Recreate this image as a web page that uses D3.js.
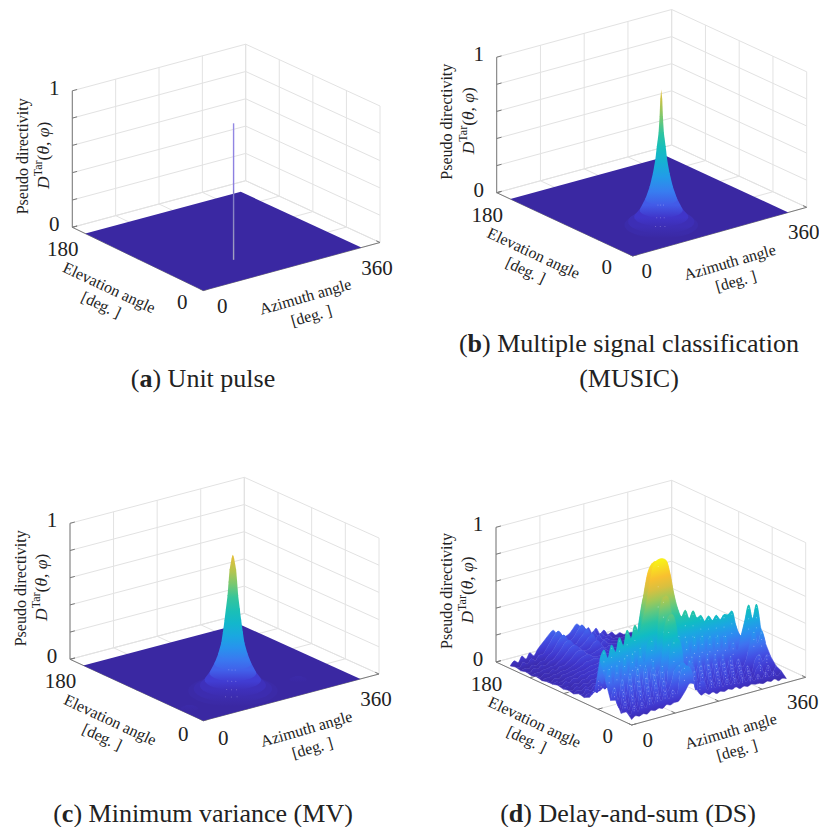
<!DOCTYPE html>
<html>
<head>
  <title>Pseudo directivity of four methods</title>
  <script src="https://cdn.jsdelivr.net/npm/d3@7"></script>
  <style>
    html, body { margin: 0; background: #fff; }
    svg { display: block; }
    text { font-family: "Liberation Serif", serif; fill: #222; }
  </style>
</head>
<body>
  <div id="chart"></div>
  <script>
    const width = 819, height = 827;

    const azimuthTicks = [0, 90, 180, 270, 360];
    const elevationTicks = [0, 45, 90, 135, 180];
    const heightTicks = [0, 0.2, 0.4, 0.6, 0.8, 1];
    const surfaceAzimuth = 322, surfaceElevation = 162;
    const peakAzimuth = 123, peakElevation = 41;

    // unit pulse
    const pulseHeight = [0, 1];

    // rotationally symmetric peaks: height against radius (azimuth degrees)
    const musicHeight = [0, 0.025, 0.06, 0.11, 0.19, 0.28, 0.38, 0.48, 0.58, 0.68, 0.8, 0.93, 1];
    const musicRadius = [60, 54, 44, 35, 26, 19, 13.7, 9.7, 7.2, 4.3, 2.7, 1.6, 0];
    const mvHeight = [0, 0.015, 0.04, 0.08, 0.13, 0.2, 0.27, 0.35, 0.43, 0.52, 0.6, 0.7, 0.8, 0.89, 0.97, 0.99, 1];
    const mvRadius = [73, 64, 54, 46, 38, 30, 24, 19, 16.3, 13.6, 11.4, 8.7, 7, 5.4, 2.2, 1.2, 0];
    const mvBumpAzimuth = [240, 17];
    const mvBumpElevation = [30, 30];
    const mvBumpHeight = [0, 0.012, 0.02];
    const mvBumpRadius = [14, 8, 0];
    const speckAngles = [220, 230, 240];

    // delay-and-sum surface, height in percent, row per elevation, column per azimuth
    const dsAzimuth = [0,8,16,24,32,40,48,56,64,72,80,88,96,104,112,120,128,136,144,152,160,168,176,184,192,200,208,216,224,232,240,248,256,264,272,280,288,296,304,312,320];
    const dsElevation = [0,7,14,21,28,35,42,49,56,63,70,77,84,91,98,105,112,119,126,133,140,147,154,161];
    const dsRow00 = [4,6,5,6,5,7,6,7,6,8, 7,8,8,11,15,19,18,12,8,9, 7,8,6,7,6,7,6,7,5,6, 5,6,5,5,4,5,4,5,3,4, 3];
    const dsRow01 = [8,5,11,6,12,7,14,8,15,9, 16,9,15,11,26,30,29,24,10,15, 15,8,14,8,13,7,12,7,11,6, 10,6,9,5,9,5,9,5,8,4, 7];
    const dsRow02 = [5,13,6,16,7,18,9,20,9,21, 10,21,12,18,28,30,30,26,14,22, 9,19,8,18,8,17,7,16,7,14, 6,13,6,11,5,11,13,6,11,5, 9];
    const dsRow03 = [13,6,18,8,21,9,23,11,24,12, 25,13,30,14,40,46,46,38,13,28, 23,11,22,10,21,9,20,9,19,8, 16,7,14,7,12,6,15,18,12,16, 14];
    const dsRow04 = [11,20,10,25,12,28,14,30,15,31, 17,33,20,30,56,62,62,52,26,22, 15,28,14,27,14,27,13,25,12,23, 11,20,10,16,9,14,26,34,24,32, 22];
    const dsRow05 = [24,33,20,34,22,38,25,40,27,43, 30,44,46,36,66,74,74,62,36,44, 30,38,27,40,27,39,26,37,25,36, 24,34,22,27,20,29,40,51,40,50, 33];
    const dsRow06 = [38,44,37,46,40,50,43,54,47,56, 50,60,72,88,98,100,100,98,88,72, 60,53,57,50,55,49,50,45,48,44, 47,43,46,45,47,36,28,25,27,26, 20];
    const dsRow07 = [12,20,16,24,18,28,22,30,26,32, 30,38,60,80,92,96,96,90,78,62, 42,38,36,36,34,34,32,32,30,30, 28,28,26,24,22,20,18,18,16,14, 12];
    const dsRow08 = [6,10,8,12,9,12,10,14,12,15, 14,18,36,56,70,75,73,62,44,28, 20,18,18,16,16,15,15,14,14,13, 13,12,12,11,11,10,10,9,9,8, 8];
    const dsRow09 = [4,6,5,7,6,8,7,9,8,10, 10,12,18,28,40,44,42,32,20,12, 8,8,7,7,6,6,6,6,5,5, 5,5,4,4,4,4,3,3,3,3, 3];
    const dsRow10 = [5,4,7,5,8,6,8,7,9,8, 10,12,15,22,28,30,28,22,14,9, 7,7,6,6,5,5,5,5,4,4, 4,4,3,3,3,3,3,3,2,2, 2];
    const dsRow11 = [3,5,4,6,5,7,6,8,7,9, 9,11,13,17,21,22,20,16,10,7, 6,6,5,5,5,5,4,4,4,4, 3,3,3,3,2,2,2,2,2,2, 2];
    const dsRow12 = [4,3,5,4,6,5,7,7,9,8, 9,10,12,14,16,16,14,11,8,6, 5,5,5,4,4,4,4,3,3,3, 3,3,2,2,2,2,2,2,2,2, 2];
    const dsRow13 = [3,4,3,5,4,6,6,8,8,9, 9,10,10,12,13,13,11,9,7,5, 5,4,4,4,4,3,3,3,3,3, 2,2,2,2,2,2,2,2,2,2, 2];
    const dsRow14 = [4,3,5,4,6,5,7,7,8,8, 9,9,10,10,11,11,9,8,6,5, 4,4,4,4,3,3,3,3,3,2, 2,2,2,2,2,2,2,2,2,2, 2];
    const dsRow15 = [3,4,3,4,5,5,6,7,7,8, 9,9,10,10,10,9,8,7,6,5, 4,4,4,3,3,3,3,3,2,2, 2,2,2,2,2,2,1,1,1,1, 1];
    const dsRow16 = [3,2,4,3,5,5,6,6,7,8, 10,10,11,10,9,8,8,7,6,5, 5,4,4,3,3,3,3,2,2,2, 2,2,2,2,1,1,1,1,1,1, 1];
    const dsRow17 = [2,3,3,4,4,5,5,6,7,9, 11,12,12,10,9,9,9,9,7,6, 6,5,4,4,3,3,3,2,2,2, 2,2,2,1,1,1,1,1,1,1, 1];
    const dsRow18 = [3,2,4,3,5,4,6,6,8,10, 13,14,13,10,9,10,11,12,9,7, 7,6,5,4,4,3,3,2,2,2, 2,2,2,1,1,1,1,1,1,1, 1];
    const dsRow19 = [2,3,3,4,4,5,5,7,9,12, 15,16,14,11,10,11,14,15,11,8, 9,7,6,5,4,4,3,3,2,2, 2,2,1,1,1,1,1,1,1,1, 1];
    const dsRow20 = [3,2,4,3,5,4,6,7,10,13, 17,18,15,11,11,13,16,18,13,9, 11,8,7,6,5,4,4,3,3,2, 2,2,1,1,1,1,1,1,1,1, 1];
    const dsRow21 = [2,3,2,4,3,5,5,8,10,14, 18,20,16,12,11,14,17,20,15,10, 13,9,9,7,6,5,4,4,3,3, 2,2,2,1,1,1,1,1,1,1, 1];
    const dsRow22 = [3,2,5,3,6,4,7,7,11,15, 19,21,17,13,12,14,18,21,17,11, 14,10,11,8,8,5,5,4,4,3, 3,2,2,2,1,1,1,1,1,1, 1];
    const dsRow23 = [2,5,3,7,4,8,5,9,12,15, 18,20,16,13,13,14,17,20,17,11, 15,10,13,8,10,6,7,4,5,3, 3,3,2,2,2,1,1,1,1,1, 1];
    const dsRows = [dsRow00,dsRow01,dsRow02,dsRow03,dsRow04,dsRow05,dsRow06,dsRow07,dsRow08,dsRow09,dsRow10,dsRow11,dsRow12,dsRow13,dsRow14,dsRow15,dsRow16,dsRow17,dsRow18,dsRow19,dsRow20,dsRow21,dsRow22,dsRow23];

    const colorStops = [0, 0.08, 0.16, 0.24, 0.32, 0.4, 0.48, 0.56, 0.64, 0.72, 0.8, 0.88, 1];
    const colorValues = ["#3a28a2","#4036cc","#4350e4","#3f72f0","#2a8ff0","#1aa8e0","#10bcc4","#28c4a4","#60c880","#a0c858","#d8c040","#f8c030","#f8f018"];
    const parula = d3.scaleLinear().domain(colorStops).range(colorValues);
    // the narrow peaks sit lower on the colour map than the delay-and-sum surface
    const peakTone = d3.scaleLinear().domain([0, 0.1, 0.2, 0.4, 0.55, 0.7, 0.85, 1]).range([0, 0.06, 0.2, 0.38, 0.48, 0.58, 0.72, 0.83]);

    // screen corners of each box: front, right, left, back, and pixel height of z = 1
    const panels = [
      { id: "a", front: [203.3, 290.5], right: [380, 242.5], left: [72.3, 227.3], back: [245.7, 180.7], tall: 136.5, shift: [0, 0] },
      { id: "b", front: [632.7, 256], right: [806.7, 207.3], left: [496.7, 192.7], back: [671.7, 145], tall: 135.5, shift: [-5, 0] },
      { id: "c", front: [203.3, 720.7], right: [379, 674], left: [70, 659.3], back: [244.3, 613.3], tall: 136, shift: [1, 2] },
      { id: "d", front: [631.7, 725], right: [805.7, 677.3], left: [496, 662], back: [671.7, 615], tall: 134.7, shift: [-3, 0] }
    ];

    const svg = d3.select("#chart").append("svg")
      .attr("width", width)
      .attr("height", height);
    const defs = svg.append("defs");

    const azimuthScale = d3.scaleLinear().domain([0, 360]).range([0, 1]);
    const elevationScale = d3.scaleLinear().domain([0, 180]).range([0, 1]);

    function makeProject(p) {
      const zScale = d3.scaleLinear().domain([0, 1]).range([0, p.tall]);
      const corner = (u, v, k) =>
        p.front[k] + u * (p.right[k] - p.front[k]) + v * (p.left[k] - p.front[k])
        + u * v * (p.back[k] - p.right[k] - p.left[k] + p.front[k]);
      return (az, el, z) => {
        const u = azimuthScale(az), v = elevationScale(el);
        return [corner(u, v, 0), corner(u, v, 1) - zScale(z)];
      };
    }

    function drawBox(g, project) {
      const line = d3.line();
      const grid = g.append("g").attr("fill", "none").attr("stroke", "#e2e2e2").attr("stroke-width", 1);
      heightTicks.forEach(z => {
        grid.append("path").attr("d", line([project(0, 180, z), project(360, 180, z), project(360, 0, z)]));
      });
      azimuthTicks.forEach(a => {
        grid.append("path").attr("d", line([project(a, 0, 0), project(a, 180, 0), project(a, 180, 1)]));
      });
      elevationTicks.forEach(e => {
        grid.append("path").attr("d", line([project(0, e, 0), project(360, e, 0), project(360, e, 1)]));
      });
    }

    function drawAxes(g, project) {
      const line = d3.line();
      const axes = g.append("g").attr("fill", "none").attr("stroke", "#7a7a7a").attr("stroke-width", 1);
      axes.append("path").attr("d", line([project(0, 180, 1), project(0, 180, 0), project(0, 0, 0), project(360, 0, 0)]));
      heightTicks.forEach(z => {
        axes.append("path").attr("d", line([project(0, 180, z), project(10, 180, z)]));
      });
      elevationTicks.forEach(e => {
        axes.append("path").attr("d", line([project(0, e, 0), project(10, e, 0)]));
      });
      azimuthTicks.forEach(a => {
        axes.append("path").attr("d", line([project(a, 0, 0), project(a, 5, 0)]));
      });
    }

    function drawFloor(g, project, color) {
      const corners = [
        project(0, 0, 0), project(surfaceAzimuth, 0, 0),
        project(surfaceAzimuth, surfaceElevation, 0), project(0, surfaceElevation, 0)
      ];
      g.append("path").attr("d", d3.line()(corners) + "Z").attr("fill", color);
    }

    // peak as a stack of rings, outermost first, each joined to the next by its hull
    function drawPeak(g, project, panelId, az0, el0, heights, radii, colorOf) {
      const angles = d3.range(0, 360, 10).map(d => d * Math.PI / 180);
      const onRing = (i, a) => project(
        az0 + radii[i] * Math.cos(a), el0 + radii[i] / 2 * Math.sin(a), heights[i]);
      const ring = i => angles.map(a => onRing(i, a));
      heights.slice(0, -1).forEach((z, i) => {
        const low = ring(i), high = ring(i + 1);
        const id = `peak-${panelId}-${az0}-${i}`;
        defs.append("linearGradient").attr("id", id)
          .attr("gradientUnits", "userSpaceOnUse")
          .attr("x1", 0).attr("x2", 0)
          .attr("y1", d3.max(low, d => d[1])).attr("y2", d3.max(high, d => d[1]))
          .selectAll("stop").data([0, 1]).join("stop")
          .attr("offset", d => d)
          .attr("stop-color", d => colorOf(d ? heights[i + 1] : z));
        const hull = d3.polygonHull(low.concat(high));
        g.append("path")
          .attr("d", d3.line()(hull) + "Z")
          .attr("fill", `url(#${id})`);
      });
      // pale specks low on the front face
      if (radii.length > 5) {
        const specks = [];
        heights.forEach((z, i) => {
          if (z > 0.03 && z <= 0.25) speckAngles.forEach(d => specks.push(onRing(i, d * Math.PI / 180)));
        });
        g.selectAll(null).data(specks).join("circle")
          .attr("cx", d => d[0]).attr("cy", d => d[1])
          .attr("r", 0.5)
          .attr("fill", "#fff")
          .attr("fill-opacity", 0.35);
      }
    }

    // surface as strips between neighbouring elevation rows, back row first
    function drawSurface(g, project, panelId, colorOf) {
      const curve = d3.line().curve(d3.curveCatmullRom.alpha(0.5));
      const rowPoints = i => dsRows[i].map((h, c) => project(dsAzimuth[c], dsElevation[i], h / 100));
      const tall = project(0, 0, 0)[1] - project(0, 0, 1)[1];
      const a = project(0, 0, 0), b = project(360, 0, 0);
      const len = Math.hypot(b[0] - a[0], b[1] - a[1]);
      const nx = (b[1] - a[1]) / len, ny = -(b[0] - a[0]) / len;
      const along = -tall * ny;
      for (let i = dsRows.length - 1; i >= 1; i--) {
        const back = rowPoints(i), frontRow = rowPoints(i - 1).reverse();
        const base = project(0, dsElevation[i - 1] + 3.5, 0);
        const id = `strip-${panelId}-${i}`;
        defs.append("linearGradient").attr("id", id)
          .attr("gradientUnits", "userSpaceOnUse")
          .attr("x1", base[0]).attr("y1", base[1])
          .attr("x2", base[0] + nx * along).attr("y2", base[1] + ny * along)
          .selectAll("stop").data(d3.range(0, 1.001, 0.04)).join("stop")
          .attr("offset", d => d)
          .attr("stop-color", d => colorOf(d));
        g.append("path")
          .attr("d", curve(back) + "L" + curve(frontRow).slice(1) + "Z")
          .attr("fill", `url(#${id})`)
          .attr("stroke", `url(#${id})`)
          .attr("stroke-width", 0.5);

        // pale specks on the crests of the front rows, as the mesh shows them
        if (i <= 8) {
          const specks = [];
          dsRows[i].forEach((h, c) => {
            const row = dsRows[i];
            if (c > 0 && c < row.length - 1 && h > row[c - 1] && h >= row[c + 1]) {
              [0.95, 0.8, 0.65].forEach(f => specks.push(project(dsAzimuth[c], dsElevation[i], h / 100 * f)));
            }
          });
          g.selectAll(null).data(specks).join("circle")
            .attr("cx", d => d[0]).attr("cy", d => d[1])
            .attr("r", 0.55)
            .attr("fill", "#fff")
            .attr("fill-opacity", 0.4);
        }
      }
    }

    function drawPulse(g, project) {
      const pts = pulseHeight.map(z => project(peakAzimuth, peakElevation, z));
      defs.append("linearGradient").attr("id", "pulse")
        .attr("gradientUnits", "userSpaceOnUse")
        .attr("x1", 0).attr("x2", 0)
        .attr("y1", pts[0][1]).attr("y2", pts[1][1])
        .selectAll("stop").data([[0, "#a3a3bf"], [0.25, "#8f8cc0"], [0.5, "#7f78c8"], [0.52, "#8a7de0"], [1, "#9489e4"]]).join("stop")
        .attr("offset", d => d[0])
        .attr("stop-color", d => d[1]);
      g.append("path")
        .attr("d", d3.line()(pts))
        .attr("fill", "none")
        .attr("stroke", "url(#pulse)")
        .attr("stroke-width", 1.4);
    }

    function addLabel(g, x, y, rotate, size, str) {
      return g.append("text")
        .attr("transform", `translate(${x},${y}) rotate(${rotate})`)
        .attr("text-anchor", "middle")
        .attr("dominant-baseline", "central")
        .attr("font-size", size)
        .text(str);
    }

    function drawLabels(g, p) {
      const fx = p.front[0] + p.shift[0], fy = p.front[1] + p.shift[1];
      const lx = p.left[0], ly = p.left[1];
      addLabel(g, lx - 18, ly - p.tall - 3, 0, 21, "1");
      addLabel(g, lx - 18, ly - 3, 0, 21, "0");
      addLabel(g, lx - 9.5, ly + 22, 0, 21, "180");
      addLabel(g, fx - 21, fy + 11, 0, 21, "0");
      addLabel(g, fx + 19, fy + 15, 0, 21, "0");
      addLabel(g, p.right[0] - 3, p.right[1] + 25, 0, 21, "360");
      addLabel(g, lx - 50, ly - 71, -90, 16, "Pseudo directivity");
      const math = addLabel(g, lx - 29, ly - 72, -90, 17.5, null);
      math.append("tspan").attr("font-style", "italic").text("D");
      math.append("tspan").attr("font-size", 12).attr("dy", -5).text("Tar");
      math.append("tspan").attr("dy", 5).text("(");
      math.append("tspan").attr("font-style", "italic").text("θ, φ");
      math.append("tspan").text(")");
      addLabel(g, fx - 94, fy - 3, 25, 16, "Elevation angle");
      addLabel(g, fx - 102, fy + 14, 25, 16, "[deg. ]");
      addLabel(g, fx + 102, fy + 6, -16, 16, "Azimuth angle");
      addLabel(g, fx + 108, fy + 25, -16, 16, "[deg. ]");
    }

    function addCaption(x, y, letter, rest) {
      const t = svg.append("text")
        .attr("x", x).attr("y", y)
        .attr("text-anchor", "middle")
        .attr("dominant-baseline", "central")
        .attr("font-size", 26);
      if (letter) {
        t.append("tspan").text("(");
        t.append("tspan").attr("font-weight", "bold").text(letter);
        t.append("tspan").text(") " + rest);
      } else {
        t.text(rest);
      }
    }

    panels.forEach(p => {
      const g = svg.append("g");
      const project = makeProject(p);
      const colorOf = p.id === "d" ? z => parula(z) : z => parula(peakTone(z));
      drawBox(g, project);
      drawAxes(g, project);
      drawLabels(g, p);
      if (p.id === "d") {
        drawSurface(g, project, p.id, colorOf);
      } else {
        drawFloor(g, project, colorOf(0));
      }
      if (p.id === "a") drawPulse(g, project);
      if (p.id === "b") drawPeak(g, project, p.id, peakAzimuth, peakElevation, musicHeight, musicRadius, colorOf);
      if (p.id === "c") {
        mvBumpAzimuth.forEach((az, i) => {
          drawPeak(g, project, p.id, az, mvBumpElevation[i], mvBumpHeight, mvBumpRadius, colorOf);
        });
        drawPeak(g, project, p.id, peakAzimuth, peakElevation, mvHeight, mvRadius, colorOf);
      }
    });

    addCaption(203, 378, "a", "Unit pulse");
    addCaption(629, 343, "b", "Multiple signal classification");
    addCaption(629, 378, null, "(MUSIC)");
    addCaption(203, 813, "c", "Minimum variance (MV)");
    addCaption(628, 813, "d", "Delay-and-sum (DS)");
  </script>
</body>
</html>
